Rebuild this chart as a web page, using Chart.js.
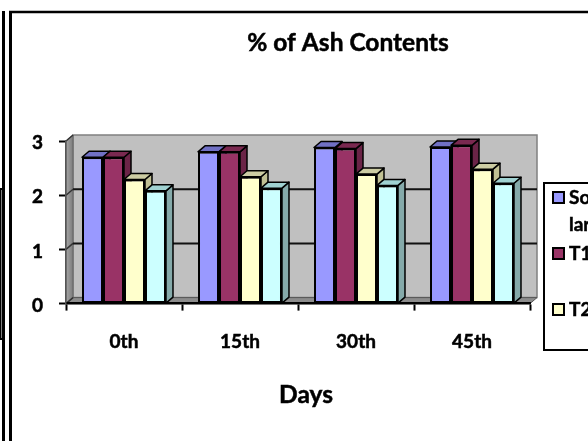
<!DOCTYPE html>
<html>
<head>
<meta charset="utf-8">
<style>html,body{margin:0;padding:0;background:#fff;overflow:hidden}canvas{display:block}</style>
<script src="https://cdn.jsdelivr.net/npm/chart.js@4"></script>
</head>
<body>
<canvas id="c" width="588" height="441"></canvas>
<script>
// Ash content by storage day, one series per treatment
const days = ['0th', '15th', '30th', '45th'];
const solar = [2.7, 2.8, 2.88, 2.89];
const t1 = [2.7, 2.8, 2.86, 2.92];
const t2 = [2.29, 2.34, 2.39, 2.48];
const t3 = [2.08, 2.13, 2.18, 2.22];
const yTicks = [0, 1, 2, 3];
const chartTitle = '% of Ash Contents';
const xTitle = 'Days';
const seriesNames = ['Solar', 'T1', 'T2', 'T3'];
const legendLines = [['So', 'lar'], ['T1'], ['T2']];

const FONT = 'Lato, Carlito, sans-serif';
const DEPTH_X = 7, DEPTH_Y = 6;
const fronts = ['#9999FF', '#993366', '#FFFFCC', '#CCFFFF'];
const tops = ['#7070C4', '#7A2950', '#CCCCA3', '#A0D2D2'];
const sides = ['#66669F', '#6B2447', '#C0C094', '#85AAAA'];

function poly(ctx, pts, fill, stroke, lw) {
  ctx.beginPath();
  pts.forEach((p, i) => i ? ctx.lineTo(p[0], p[1]) : ctx.moveTo(p[0], p[1]));
  ctx.closePath();
  if (fill) { ctx.fillStyle = fill; ctx.fill(); }
  if (stroke) { ctx.strokeStyle = stroke; ctx.lineWidth = lw; ctx.stroke(); }
}

function line(ctx, x1, y1, x2, y2, color, lw) {
  ctx.beginPath();
  ctx.moveTo(x1, y1);
  ctx.lineTo(x2, y2);
  ctx.strokeStyle = color;
  ctx.lineWidth = lw;
  ctx.stroke();
}

// Filled text with a hairline outline for a heavier bold
function heavyText(ctx, txt, x, y) {
  ctx.lineWidth = 0.5;
  ctx.strokeStyle = '#000';
  ctx.fillText(txt, x, y);
  ctx.strokeText(txt, x, y);
}

// Page rules and the clipped neighbouring box at the left edge
const framePlugin = {
  id: 'frame',
  beforeDraw(chart) {
    const ctx = chart.ctx;
    ctx.save();
    ctx.fillStyle = '#fff';
    ctx.fillRect(0, 0, 588, 441);
    line(ctx, 3.5, 11, 3.5, 441, '#000', 3);
    line(ctx, 10.5, 11, 10.5, 441, '#000', 3);
    line(ctx, 9, 12, 588, 12, '#000', 2.5);
    line(ctx, 0.5, 188, 0.5, 340, '#000', 2);
    line(ctx, 0, 189, 3, 189, '#000', 2);
    line(ctx, 0, 339, 3, 339, '#000', 2);
    ctx.restore();
  }
};

// Walls, floor and receding gridlines behind the bars
const wallPlugin = {
  id: 'walls',
  beforeDraw(chart) {
    const ctx = chart.ctx, a = chart.chartArea, y = chart.scales.y;
    const l = a.left, r = a.right, t = a.top, b = a.bottom;
    ctx.save();
    poly(ctx, [[l + DEPTH_X, t - DEPTH_Y], [r + DEPTH_X, t - DEPTH_Y], [r + DEPTH_X, b - DEPTH_Y], [l + DEPTH_X, b - DEPTH_Y]], '#C0C0C0', '#808080', 1.5);
    const g = ctx.createLinearGradient(l, 0, l + DEPTH_X, 0);
    g.addColorStop(0, '#A6A6A6');
    g.addColorStop(1, '#7C7C7C');
    poly(ctx, [[l, t], [l + DEPTH_X, t - DEPTH_Y], [l + DEPTH_X, b - DEPTH_Y], [l, b]], g, '#666', 1);
    poly(ctx, [[l, b], [l + DEPTH_X, b - DEPTH_Y], [r + DEPTH_X, b - DEPTH_Y], [r, b]], '#8C8C8C', '#555', 1);
    yTicks.forEach(v => {
      const py = y.getPixelForValue(v);
      if (v > 0 && v < 3) line(ctx, l + DEPTH_X, py - DEPTH_Y, r + DEPTH_X, py - DEPTH_Y, '#111', 2);
      line(ctx, l, py, l + DEPTH_X, py - DEPTH_Y, '#333', 1.5);
    });
    ctx.restore();
  }
};

// Top and side faces of each bar, extruded from the bar elements
const depthPlugin = {
  id: 'depth',
  beforeDatasetsDraw(chart) {
    const ctx = chart.ctx;
    ctx.save();
    ctx.lineJoin = 'round';
    days.forEach((_, c) => {
      chart.data.datasets.forEach((_, s) => {
        const el = chart.getDatasetMeta(s).data[c];
        const x1 = el.x - el.width / 2, x2 = el.x + el.width / 2;
        poly(ctx, [[x2, el.y], [x2 + DEPTH_X, el.y - DEPTH_Y], [x2 + DEPTH_X, el.base - DEPTH_Y], [x2, el.base]], sides[s], '#000', 1.5);
        poly(ctx, [[x1, el.y], [x1 + DEPTH_X, el.y - DEPTH_Y], [x2 + DEPTH_X, el.y - DEPTH_Y], [x2, el.y]], tops[s], '#000', 1.5);
      });
    });
    ctx.restore();
  }
};

// Chart title, axis title and the legend box running off the right edge
const textPlugin = {
  id: 'texts',
  afterDraw(chart) {
    const ctx = chart.ctx;
    ctx.save();
    ctx.fillStyle = '#000';
    ctx.textAlign = 'center';
    ctx.textBaseline = 'middle';
    ctx.font = 'bold 24.5px ' + FONT;
    heavyText(ctx, chartTitle, 348, 43);
    heavyText(ctx, xTitle, 306, 395);

    ctx.strokeStyle = '#000';
    ctx.lineWidth = 2;
    ctx.strokeRect(544, 183, 60, 167);
    ctx.textAlign = 'left';
    ctx.font = 'bold 19px ' + FONT;
    const keyY = [192, 248, 304];
    legendLines.forEach((lines, i) => {
      ctx.fillStyle = fronts[i];
      ctx.lineWidth = 2;
      ctx.fillRect(553, keyY[i], 11, 11);
      ctx.strokeRect(553, keyY[i], 11, 11);
      ctx.fillStyle = '#000';
      lines.forEach((txt, k) => heavyText(ctx, txt, 569, keyY[i] + 6 + k * 27));
    });
    ctx.restore();
  }
};

const seriesValues = [solar, t1, t2, t3];

new Chart(document.getElementById('c'), {
  type: 'bar',
  data: {
    labels: days,
    datasets: seriesNames.map((name, i) => ({
      label: name,
      data: seriesValues[i],
      backgroundColor: fronts[i],
      borderColor: '#000',
      borderWidth: 2,
      borderSkipped: false
    }))
  },
  options: {
    responsive: false,
    animation: false,
    layout: { padding: { left: 0, top: 141, right: 58, bottom: 37.4 } },
    plugins: { legend: { display: false }, title: { display: false }, tooltip: { enabled: false } },
    datasets: { bar: { categoryPercentage: 0.724, barPercentage: 1 } },
    scales: {
      x: {
        afterFit(s) { s.height = 100; },
        grid: { drawOnChartArea: false, drawTicks: true, tickLength: 7, tickColor: '#000', tickWidth: 2 },
        border: { color: '#000', width: 2.5 },
        ticks: { color: '#000', padding: 20, maxRotation: 0, textStrokeColor: '#000', textStrokeWidth: 0.5, font: { family: FONT, weight: 'bold', size: 19 } }
      },
      y: {
        min: 0,
        max: 3,
        afterBuildTicks(s) { s.ticks = yTicks.map(v => ({ value: v })); },
        afterFit(s) { s.width = 66; },
        grid: { drawOnChartArea: false, drawTicks: true, tickLength: 7, tickColor: '#000', tickWidth: 2 },
        border: { color: '#555', width: 1.5 },
        ticks: { color: '#000', padding: 16, labelOffset: 2, textStrokeColor: '#000', textStrokeWidth: 0.5, font: { family: FONT, weight: 'bold', size: 19 } }
      }
    }
  },
  plugins: [framePlugin, wallPlugin, depthPlugin, textPlugin]
});
</script>
</body>
</html>
